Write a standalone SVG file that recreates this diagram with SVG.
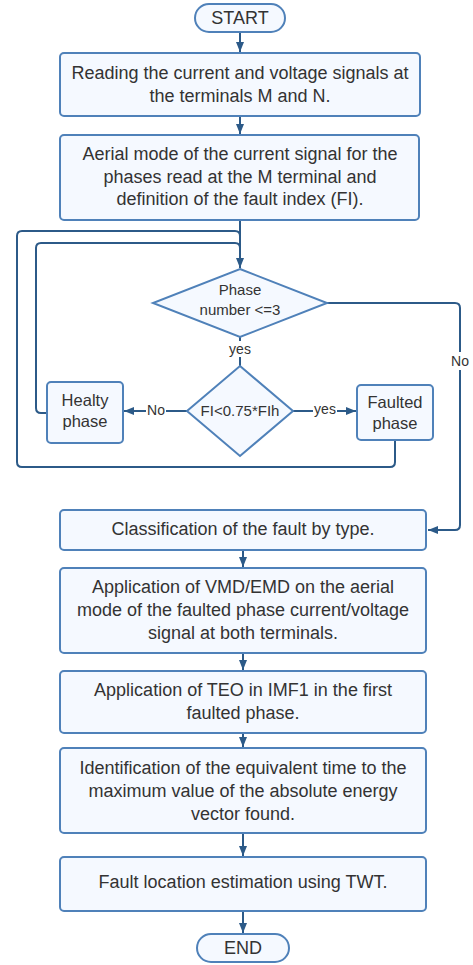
<svg xmlns="http://www.w3.org/2000/svg" width="473" height="965" viewBox="0 0 473 965">
<defs>
<style>
.n{fill:#f5f9ff;stroke:#4f81b9;stroke-width:2}
.t{font-family:"Liberation Sans",Arial,sans-serif;font-size:18px;fill:#333333;text-anchor:middle;dominant-baseline:central}
.d{font-family:"Liberation Sans",Arial,sans-serif;font-size:15px;fill:#333333;text-anchor:middle;dominant-baseline:central}
.s{font-family:"Liberation Sans",Arial,sans-serif;font-size:16.5px;fill:#333333;text-anchor:middle;dominant-baseline:central}
.l{font-family:"Liberation Sans",Arial,sans-serif;font-size:14px;fill:#333333;text-anchor:middle;dominant-baseline:central}
.c{fill:none;stroke:#2c5a88;stroke-width:2}
.bg{fill:#ffffff}
</style>
<marker id="ah" viewBox="0 0 10 8" refX="10" refY="4" markerWidth="10" markerHeight="8" orient="auto" markerUnits="userSpaceOnUse">
<path d="M0,0 L10,4 L0,8 z" fill="#2c5a88"/>
</marker>
</defs>
<rect width="473" height="965" fill="#ffffff"/>
<g id="connectors">
<path class="c" d="M240,32 V52" marker-end="url(#ah)"/>
<path class="c" d="M240,116 V134" marker-end="url(#ah)"/>
<path class="c" d="M240,220 V268" marker-end="url(#ah)"/>
<path class="c" d="M395,440 V462 Q395,467 390,467 H22 Q17,467 17,462 V236 Q17,231 22,231 H235 Q240,231 240,236"/>
<path class="c" d="M47,413 H41 Q36,413 36,408 V248 Q36,243 41,243 H235 Q240,243 240,248"/>
<path class="c" d="M327,303 H455 Q460,303 460,308 V525 Q460,530 455,530 H428" marker-end="url(#ah)"/>
<path class="c" d="M240,337 V366"/>
<path class="c" d="M187,411 H124" marker-end="url(#ah)"/>
<path class="c" d="M293,411 H356" marker-end="url(#ah)"/>
<path class="c" d="M243,550 V567" marker-end="url(#ah)"/>
<path class="c" d="M243,653 V670" marker-end="url(#ah)"/>
<path class="c" d="M243,733 V747" marker-end="url(#ah)"/>
<path class="c" d="M243,833 V856" marker-end="url(#ah)"/>
<path class="c" d="M243,911 V933" marker-end="url(#ah)"/>
<rect class="bg" x="450" y="352" width="20" height="18"/>
<text class="l" x="460" y="361">No</text>
<rect class="bg" x="227" y="341" width="26" height="16"/>
<text class="l" x="240" y="349">yes</text>
<rect class="bg" x="146" y="403" width="20" height="16"/>
<text class="l" x="156" y="410">No</text>
<rect class="bg" x="313" y="403" width="24" height="14"/>
<text class="l" x="325" y="409">yes</text>
</g>
<g id="start">
<rect class="n" x="195" y="4" width="90" height="28" rx="14"/>
<text class="t" x="240" y="18">START</text>
</g>
<g id="read">
<rect class="n" x="60" y="53" width="360" height="63" rx="4"/>
<text class="t" x="240" y="73">Reading the current and voltage signals at</text>
<text class="t" x="240" y="96">the terminals M and N.</text>
</g>
<g id="aerial">
<rect class="n" x="60" y="135" width="359" height="85" rx="4"/>
<text class="t" x="240" y="154">Aerial mode of the current signal for the</text>
<text class="t" x="240" y="177">phases read at the M terminal and</text>
<text class="t" x="240" y="199">definition of the fault index (FI).</text>
</g>
<g id="phase">
<path class="n" d="M240,269 L327,303 L240,337 L153,303 Z"/>
<text class="d" x="240" y="289">Phase</text>
<text class="d" x="240" y="309">number &lt;=3</text>
</g>
<g id="fi">
<path class="n" d="M240,366 L293,411 L240,456 L187,411 Z"/>
<text class="d" x="240" y="410">FI&lt;0.75*FIh</text>
</g>
<g id="healty">
<rect class="n" x="47" y="382" width="76" height="61" rx="4"/>
<text class="s" x="85" y="400">Healty</text>
<text class="s" x="85" y="421">phase</text>
</g>
<g id="faulted">
<rect class="n" x="357" y="385" width="76" height="55" rx="4"/>
<text class="s" x="395" y="402">Faulted</text>
<text class="s" x="395" y="423">phase</text>
</g>
<g id="classification">
<rect class="n" x="60" y="510" width="366" height="40" rx="4"/>
<text class="t" x="243" y="529">Classification of the fault by type.</text>
</g>
<g id="vmd">
<rect class="n" x="60" y="568" width="366" height="85" rx="4"/>
<text class="t" x="243" y="587">Application of VMD/EMD on the aerial</text>
<text class="t" x="243" y="610">mode of the faulted phase current/voltage</text>
<text class="t" x="243" y="633">signal at both terminals.</text>
</g>
<g id="teo">
<rect class="n" x="60" y="671" width="366" height="62" rx="4"/>
<text class="t" x="243" y="690">Application of TEO in IMF1 in the first</text>
<text class="t" x="243" y="713">faulted phase.</text>
</g>
<g id="ident">
<rect class="n" x="60" y="748" width="366" height="85" rx="4"/>
<text class="t" x="243" y="768">Identification of the equivalent time to the</text>
<text class="t" x="243" y="791">maximum value of the absolute energy</text>
<text class="t" x="243" y="814">vector found.</text>
</g>
<g id="location">
<rect class="n" x="60" y="857" width="366" height="54" rx="4"/>
<text class="t" x="243" y="882">Fault location estimation using TWT.</text>
</g>
<g id="end">
<rect class="n" x="197" y="934" width="92" height="28" rx="14"/>
<text class="t" x="243" y="948">END</text>
</g>
</svg>
